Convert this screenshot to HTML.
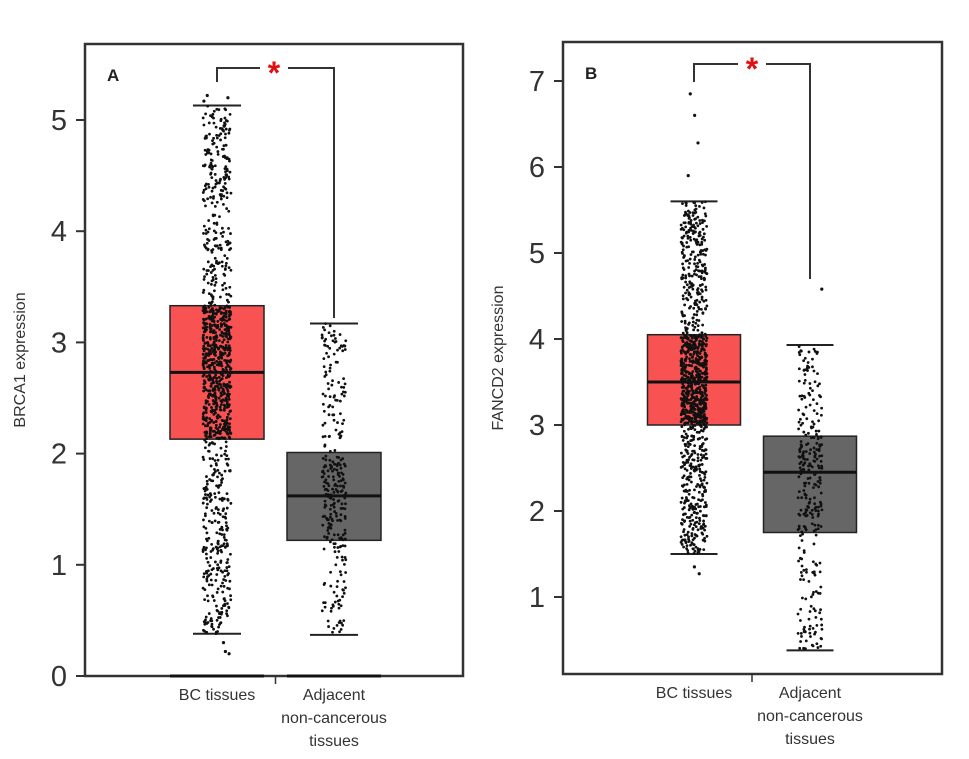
<!DOCTYPE html>
<html><head><meta charset="utf-8"><style>
body{margin:0;background:#fff;}
svg{display:block;font-family:"Liberation Sans",Arial,sans-serif;}
</style></head><body>
<svg id="c" width="969" height="759" viewBox="0 0 969 759"></svg>
<script>
const categories = ["BC tissues", "Adjacent non-cancerous tissues"];
// [lowerWhisker, Q1, median, Q3, upperWhisker]
const statsA_BC = [0.38, 2.13, 2.73, 3.33, 5.13];
const statsA_Adj = [0.37, 1.22, 1.62, 2.01, 3.17];
const statsB_BC = [1.5, 3.0, 3.5, 4.05, 5.6];
const statsB_Adj = [0.38, 1.75, 2.45, 2.87, 3.93];
const outliersA_BC = [5.2, 5.22, 5.17, 0.3, 0.22, 0.2];
const outliersA_Adj = [];
const outliersB_BC = [6.85, 6.6, 6.28, 5.9, 1.35, 1.27];
const outliersB_Adj = [4.58];
const countsA = [1100, 300];
const countsB = [1100, 300];
const ticksA = [0, 1, 2, 3, 4, 5];
const ticksB = [1, 2, 3, 4, 5, 6, 7];

const NS = "http://www.w3.org/2000/svg";
const svg = document.getElementById("c");
function el(tag, attrs, parent) {
  const e = document.createElementNS(NS, tag);
  for (const k in attrs) e.setAttribute(k, attrs[k]);
  (parent || svg).appendChild(e);
  return e;
}
let seed = 12345;
function rnd() { seed = (seed * 1103515245 + 12345) % 2147483648; return seed / 2147483648; }
function sampleFromStats(s) {
  const u = rnd(); const seg = Math.min(3, Math.floor(u * 4)); const f = u * 4 - seg;
  return s[seg] + (s[seg + 1] - s[seg]) * f;
}

function panel(cfg) {
  const g = el("g", {});
  
  
  const y = v => cfg.y0 - (v - cfg.v0) * cfg.ppu;
  const fr = el("rect", {x: cfg.L, y: cfg.T, width: cfg.R - cfg.L, height: cfg.B - cfg.T, fill: "none", stroke: "#333", "stroke-width": 2.5}, g);
  
  
  const lt = el("text", {x: cfg.L + 22, y: cfg.T + 37, "font-size": 17, "font-weight": "bold", fill: "#222"}, g);
  lt.textContent = cfg.letter;
  
  
  cfg.ticks.forEach(t => {
    const yy = y(t);
    const tk = el("line", {x1: cfg.L - 9, x2: cfg.L, y1: yy, y2: yy, stroke: "#333", "stroke-width": 2}, g);
    
    
    const tl = el("text", {x: cfg.L - 18, y: yy + 10, "font-size": 29, "text-anchor": "end", fill: "#333"}, g);
    tl.textContent = t;
    
    
  });
  const yt = el("text", {x: 0, y: 0, "font-size": 16, "text-anchor": "middle", fill: "#333", transform: `translate(${cfg.titleX},${(cfg.T + cfg.B) / 2}) rotate(-90)`}, g);
  yt.textContent = cfg.title;
  
  
  const xm = (cfg.cx[0] + cfg.cx[1]) / 2;
  const ct = el("line", {x1: xm, x2: xm, y1: cfg.B, y2: cfg.B + 8, stroke: "#333", "stroke-width": 1.5}, g);
  
  
  const fills = ["#f85252", "#666666"];
  [0, 1].forEach(i => {
    const s = cfg.stats[i], cx = cfg.cx[i], hw = cfg.boxW / 2, ww = cfg.whW / 2;
    if (cfg.zeroLine) {
      const zl = el("line", {x1: cx - hw, x2: cx + hw, y1: cfg.B, y2: cfg.B, stroke: "#111", "stroke-width": 3}, g);
      
      
    }
    const bx = el("rect", {x: cx - hw, y: y(s[3]), width: cfg.boxW, height: y(s[1]) - y(s[3]), fill: fills[i], stroke: "#222", "stroke-width": 1.5}, g);
    
    
    const md = el("line", {x1: cx - hw, x2: cx + hw, y1: y(s[2]), y2: y(s[2]), stroke: "#111", "stroke-width": 3}, g);
    
    
    [0, 4].forEach(k => {
      const w = el("line", {x1: cx - ww, x2: cx + ww, y1: y(s[k]), y2: y(s[k]), stroke: "#222", "stroke-width": 2}, g);
      
      
    });
    const pg = el("g", {fill: "#111"}, g);
    
    
    for (let n = 0; n < cfg.counts[i]; n++) {
      const v = sampleFromStats(s);
      el("circle", {cx: cx + (rnd() - 0.5) * cfg.jit[i], cy: y(v), r: 1.4}, pg);
    }
    cfg.outliers[i].forEach(v => {
      const c = el("circle", {cx: cx + (rnd() - 0.5) * cfg.jit[i], cy: y(v), r: 1.6}, pg);
      
      
    });
    const lines = i === 0 ? ["BC tissues"] : ["Adjacent", "non-cancerous", "tissues"];
    lines.forEach((t, j) => {
      const tx = el("text", {x: cx, y: cfg.B + 24 + j * 23, "font-size": 16, "text-anchor": "middle", fill: "#333"}, g);
      tx.textContent = t;
      
      
    });
  });
  const by = cfg.bracketY;
  const br = el("path", {d: `M${cfg.cx[0]},${cfg.bl} V${by} H${cfg.star - 14} M${cfg.star + 14},${by} H${cfg.cx[1]} V${cfg.br}`, fill: "none", stroke: "#333", "stroke-width": 2}, g);
  
  
  const st = el("text", {x: cfg.star, y: by + 16, "font-size": 32, "font-weight": "bold", "text-anchor": "middle", fill: "#e01010"}, g);
  st.textContent = "*";
  
  
}

panel({name: "panel-a", letter: "A", L: 85, R: 463, T: 44, B: 676, y0: 676, v0: 0, ppu: 111.2,
  ticks: ticksA, title: "BRCA1 expression", titleX: 25, cx: [217, 334], boxW: 94, whW: 48,
  stats: [statsA_BC, statsA_Adj], outliers: [outliersA_BC, outliersA_Adj], counts: countsA, jit: [28, 24],
  zeroLine: true, bracketY: 68, bl: 82, br: 318, star: 274});
panel({name: "panel-b", letter: "B", L: 563, R: 942, T: 42, B: 674, y0: 597, v0: 1, ppu: 86,
  ticks: ticksB, title: "FANCD2 expression", titleX: 503, cx: [694, 810], boxW: 93, whW: 47,
  stats: [statsB_BC, statsB_Adj], outliers: [outliersB_BC, outliersB_Adj], counts: countsB, jit: [26, 24],
  zeroLine: false, bracketY: 64, bl: 82, br: 279, star: 752});
</script>
</body></html>
